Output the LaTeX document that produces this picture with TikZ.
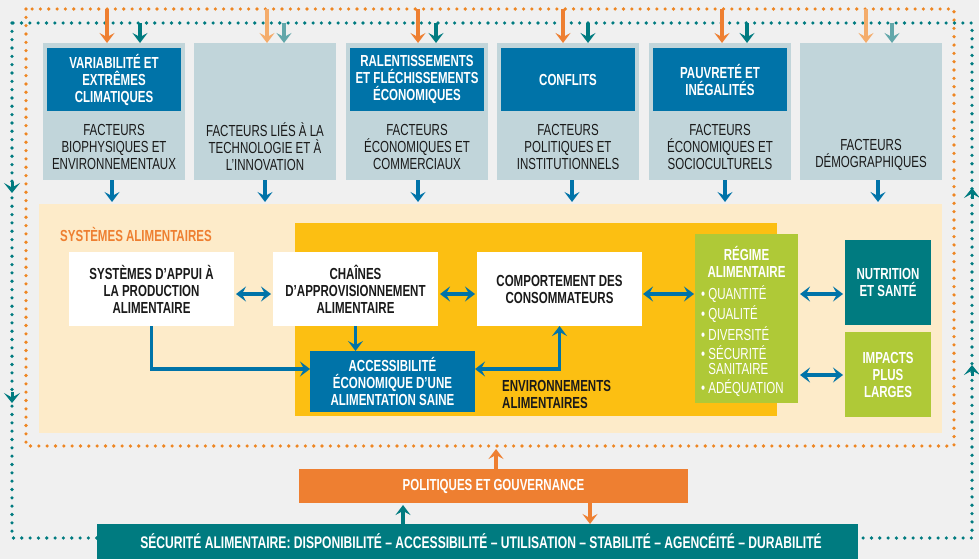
\documentclass[tikz,border=0pt]{standalone}
\usepackage{fontspec}
\setmainfont{Liberation Sans}[FakeStretch=0.72]
\usetikzlibrary{arrows.meta,calc}
\definecolor{bgc}{HTML}{F0F0F0}
\definecolor{grayb}{HTML}{C1D5DA}
\definecolor{blueh}{HTML}{0073A8}
\definecolor{lyel}{HTML}{FDEBC9}
\definecolor{envy}{HTML}{FCBF12}
\definecolor{greenb}{HTML}{AFC937}
\definecolor{tealb}{HTML}{007B80}
\definecolor{orangeb}{HTML}{EE7F31}
\definecolor{orangedot}{HTML}{EE8622}
\definecolor{lorange}{HTML}{F4AC6B}
\definecolor{lteal}{HTML}{62A7AA}
\definecolor{txt}{HTML}{1A1A1A}
\newcommand\fsz{\fontsize{16}{17}\selectfont}
\begin{document}
\begin{tikzpicture}[x=1pt,y=-1pt,
  box/.style={inner sep=0pt,outer sep=0pt},
  gbox/.style={box,fill=grayb,minimum width=142,minimum height=137},
  hdr/.style={box,fill=blueh,text=white,font=\fsz\bfseries,align=center,minimum width=134,minimum height=63},
  ftxt/.style={text=txt,align=center,font=\fsz,inner sep=0pt},
  wbox/.style={box,fill=white,text=txt,font=\fsz\bfseries,align=center,minimum width=165,minimum height=74},
  dots/.style={line width=3.6pt,line cap=round,dash pattern=on 0pt off 8.33pt},
  arr/.style={line width=3.2pt,-{Stealth[length=10pt,width=15pt,inset=4pt]}},
  darr/.style={line width=3.2pt,{Stealth[length=10pt,width=15pt,inset=4pt]}-{Stealth[length=10pt,width=15pt,inset=4pt]}},
  chev/.style={draw=tealb,line width=3pt,-{Stealth[length=10pt,width=16pt,inset=4.5pt]}}
]
\useasboundingbox (0,0) rectangle (979,559);
\fill[bgc] (0,0) rectangle (979,559);

% dotted loops
\draw[dots,draw=orangedot] (26,9) rectangle (954,446);
\draw[dots,draw=tealb] (12,23) rectangle (972,538);
\coordinate (cl1a) at (12,182); \coordinate (cl1b) at (12,193);
\coordinate (cl2a) at (12,392); \coordinate (cl2b) at (12,403);
\coordinate (cr1a) at (972,199); \coordinate (cr1b) at (972,188);
\coordinate (cr2a) at (972,376); \coordinate (cr2b) at (972,365);
\draw[chev] (cl1a) -- (cl1b);
\draw[chev] (cl2a) -- (cl2b);
\draw[chev] (cr1a) -- (cr1b);
\draw[chev] (cr2a) -- (cr2b);

% factor boxes
\node[gbox] (f1) at (114,111.5) {};
\node[gbox] (f2) at (265,111.5) {};
\node[gbox] (f3) at (417,111.5) {};
\node[gbox] (f4) at (568,111.5) {};
\node[gbox] (f5) at (720,111.5) {};
\node[gbox] (f6) at (871,111.5) {};
\node[hdr] (h1) at (114,79.5) {VARIABILITÉ ET\\EXTRÊMES\\CLIMATIQUES};
\node[hdr] (h3) at (417,79.5) {RALENTISSEMENTS\\ET FLÉCHISSEMENTS\\ÉCONOMIQUES};
\node[hdr] (h4) at (568,79.5) {CONFLITS};
\node[hdr] (h5) at (720,79.5) {PAUVRETÉ ET\\INÉGALITÉS};
\node[ftxt] (t1) at (114,147) {FACTEURS\\BIOPHYSIQUES ET\\ENVIRONNEMENTAUX};
\node[ftxt] (t2) at (265,147) {FACTEURS LIÉS À LA\\TECHNOLOGIE ET À\\L’INNOVATION};
\node[ftxt] (t3) at (417,147) {FACTEURS\\ÉCONOMIQUES ET\\COMMERCIAUX};
\node[ftxt] (t4) at (568,147) {FACTEURS\\POLITIQUES ET\\INSTITUTIONNELS};
\node[ftxt] (t5) at (720,147) {FACTEURS\\ÉCONOMIQUES ET\\SOCIOCULTURELS};
\node[ftxt] (t6) at (871,155) {FACTEURS\\DÉMOGRAPHIQUES};

% top arrows
\foreach \n/\xo/\xt/\co/\ct in {1/107/140/orangeb/tealb,2/267/284/lorange/lteal,3/418/436/orangeb/tealb,4/563/588/orangeb/tealb,5/722/747/orangeb/tealb,6/866/892/lorange/lteal}{
  \coordinate (oo\n) at (\xo,9);
  \coordinate (tt\n) at (\xt,23);
  \draw[arr,draw=\co] (oo\n) -- (oo\n |- f\n.north);
  \draw[arr,draw=\ct] (tt\n) -- (tt\n |- f\n.north);
}

% food systems
\node[box,fill=lyel,minimum width=903,minimum height=229] (sys) at (490.5,318.5) {};
\node[box,fill=envy,minimum width=482,minimum height=193] (env) at (536,319.5) {};
\node[anchor=west,text=orangeb,font=\fsz\bfseries,inner sep=0pt] (systl) at (60,234) {SYSTÈMES ALIMENTAIRES};

% blue arrows from factors
\foreach \n/\xb in {1/112,2/265,3/418,4/572,5/725,6/878}{
  \coordinate (bb\n) at (\xb,0);
  \draw[arr,draw=blueh,shorten >=2pt] (bb\n |- f\n.south) -- (bb\n |- sys.north);
}

\node[wbox] (b1) at (151.5,289) {SYSTÈMES D’APPUI À\\LA PRODUCTION\\ALIMENTAIRE};
\node[wbox] (b2) at (355.5,289) {CHAÎNES\\D’APPROVISIONNEMENT\\ALIMENTAIRE};
\node[wbox] (b3) at (559.5,289) {COMPORTEMENT DES\\CONSOMMATEURS};
\node[box,fill=blueh,text=white,font=\fsz\bfseries,align=center,minimum width=165,minimum height=61] (acc) at (392.5,381.5) {ACCESSIBILITÉ\\ÉCONOMIQUE D’UNE\\ALIMENTATION SAINE};
\node[anchor=west,align=left,text=txt,font=\fsz\bfseries,inner sep=0pt] (envt) at (502,394.5) {ENVIRONNEMENTS\\ALIMENTAIRES};

\node[box,fill=greenb,minimum width=103,minimum height=169] (reg) at (746.5,318.5) {};
\node[text=white,font=\fsz\bfseries,align=center,inner sep=0pt] (regt) at (746.5,261.5) {RÉGIME\\ALIMENTAIRE};
\node[anchor=north west,text=white,font=\fontsize{16}{15.5}\selectfont,align=left,inner sep=0pt] (regl) at (701,285) {\textbullet\ QUANTITÉ\\[3pt]\textbullet\ QUALITÉ\\[3pt]\textbullet\ DIVERSITÉ\\[3pt]\textbullet\ SÉCURITÉ\\\phantom{\textbullet\ }SANITAIRE\\[3pt]\textbullet\ ADÉQUATION};

\node[box,fill=tealb,text=white,font=\fsz\bfseries,align=center,minimum width=86,minimum height=85] (nut) at (888,282.5) {NUTRITION\\ET SANTÉ};
\node[box,fill=greenb,text=white,font=\fsz\bfseries,align=center,minimum width=86,minimum height=85] (imp) at (888,374.5) {IMPACTS\\PLUS\\LARGES};

% connectors inside
\coordinate (y294) at (0,294);
\coordinate (y369) at (0,369);
\coordinate (y375) at (0,375);
\draw[darr,draw=blueh,shorten <=2pt,shorten >=2pt] (b1.east |- y294) -- (b2.west |- y294);
\draw[darr,draw=blueh,shorten <=2pt,shorten >=2pt] (b2.east |- y294) -- (b3.west |- y294);
\draw[darr,draw=blueh,shorten <=1pt,shorten >=1pt] (b3.east |- y294) -- (reg.west |- y294);
\draw[darr,draw=blueh,shorten <=2pt,shorten >=2pt] (reg.east |- y294) -- (nut.west |- y294);
\draw[darr,draw=blueh,shorten <=2pt,shorten >=2pt] (reg.east |- y375) -- (imp.west |- y375);
\draw[arr,draw=blueh] (b1.south) |- (acc.west |- y369);
\draw[arr,draw=blueh] (b2.south) -- (b2.south |- acc.north);
\draw[darr,draw=blueh] (acc.east |- y369) -| (b3.south);

% policies and food security
\node[box,fill=orangeb,text=white,font=\fsz\bfseries,minimum width=389,minimum height=34] (pol) at (493.5,486) {POLITIQUES ET GOUVERNANCE};
\node[box,fill=tealb,text=white,font=\fsz\bfseries,minimum width=761,minimum height=40] (sec) at (477.5,544) {};
\node[text=white,font=\fontsize{16.8}{17}\selectfont\bfseries,inner sep=0pt] (sect) at (481,541) {SÉCURITÉ ALIMENTAIRE: DISPONIBILITÉ – ACCESSIBILITÉ – UTILISATION – STABILITÉ – AGENCÉITÉ – DURABILITÉ};
\coordinate (ob) at (496,449);
\coordinate (xt) at (403,0);
\coordinate (xo) at (590,0);
\draw[arr,draw=orangeb] (ob |- pol.north) -- (ob);
\draw[arr,draw=tealb,shorten >=2pt] (xt |- sec.north) -- (xt |- pol.south);
\draw[arr,draw=orangeb] (xo |- pol.south) -- (xo |- sec.north);
\end{tikzpicture}
\end{document}
